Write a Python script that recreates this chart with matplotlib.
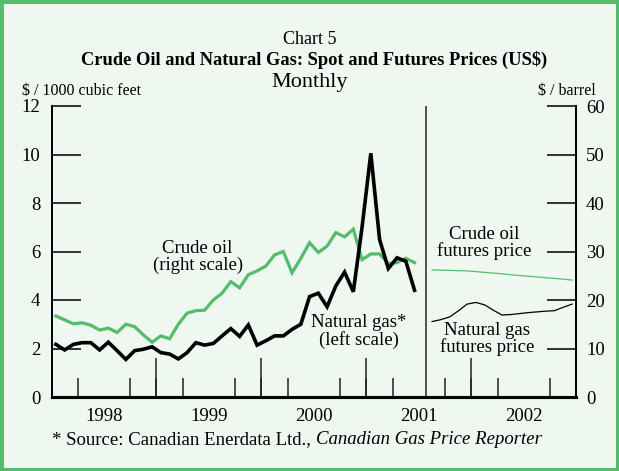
import numpy as np
import matplotlib
matplotlib.use("Agg")
import matplotlib.pyplot as plt
from matplotlib.patches import Rectangle

# Monthly spot prices, Jan 1998 - Jun 2001
gas_spot = [2.17, 1.94, 2.17, 2.24, 2.24, 1.94, 2.26, 1.91, 1.55, 1.91, 1.97, 2.07,
            1.83, 1.77, 1.57, 1.83, 2.24, 2.14, 2.21, 2.52, 2.82, 2.50, 2.97, 2.14,
            2.32, 2.52, 2.52, 2.79, 3.00, 4.14, 4.28, 3.72, 4.58, 5.15, 4.34, 7.00,
            10.05, 6.50, 5.30, 5.74, 5.60, 4.40]
oil_spot = [16.7, 15.9, 15.1, 15.3, 14.8, 13.8, 14.2, 13.3, 15.0, 14.5, 12.8, 11.3,
            12.6, 12.0, 15.0, 17.3, 17.8, 17.9, 20.0, 21.4, 23.8, 22.5, 25.2, 26.0,
            27.0, 29.3, 30.0, 25.6, 28.6, 31.8, 29.8, 31.1, 33.9, 33.0, 34.6, 28.3,
            29.5, 29.5, 27.5, 27.7, 28.6, 27.7]
# Futures prices, Aug 2001 - Dec 2002
gas_fut = [3.11, 3.19, 3.30, 3.55, 3.83, 3.90, 3.80, 3.58, 3.38, 3.40, 3.44, 3.48,
           3.51, 3.54, 3.56, 3.70, 3.83]
oil_fut = [26.2, 26.15, 26.1, 26.05, 26.0, 25.85, 25.7, 25.55, 25.4, 25.2, 25.05,
           24.9, 24.75, 24.6, 24.45, 24.3, 24.1]
years = ["1998", "1999", "2000", "2001", "2002"]

GREEN = "#55bc6c"
BG = "#eef7f0"
SERIF = "Liberation Serif"
plt.rcParams["font.family"] = SERIF

fig = plt.figure(figsize=(6.19, 4.71), dpi=100, facecolor=BG)
W, H = 619, 471

def fx(px):
    return px / W

def fy(py):
    return 1 - py / H

# green frame
fig.patches.append(Rectangle((0, 0), 1, 1, transform=fig.transFigure, fill=False,
                             edgecolor=GREEN, linewidth=5))

ax = fig.add_axes([fx(51.5), fy(397), fx(576.4) - fx(51.5), fy(106) - fy(397)])
ax.set_facecolor(BG)
ax2 = ax.twinx()

x_spot = np.arange(len(gas_spot)) + 0.5
x_fut = np.arange(len(gas_fut)) + 43.5

ax2.plot(x_spot, oil_spot, color=GREEN, lw=2.3, solid_joinstyle="miter")
ax2.plot(x_fut, oil_fut, color=GREEN, lw=0.9)
ax.plot(x_spot, gas_spot, color="black", lw=2.6, solid_joinstyle="miter", zorder=5)
ax.plot(x_fut, gas_fut, color="black", lw=0.9)
ax.set_zorder(ax2.get_zorder() + 1)
ax.patch.set_visible(False)
ax2.patch.set_visible(True)
ax2.patch.set_facecolor(BG)

ax.axvline(42.85, color="#444444", lw=1.3)

ax.set_xlim(0, 60)
ax.set_ylim(0, 12)
ax2.set_ylim(0, 60)

for a in (ax, ax2):
    a.spines["top"].set_visible(False)
    a.spines["left"].set_linewidth(1.3)
    a.spines["right"].set_linewidth(1.3)
    a.spines["bottom"].set_linewidth(2.2)

ax.set_yticks(np.arange(0, 13, 2))
ax2.set_yticks(np.arange(0, 61, 10))
ax.tick_params(axis="y", direction="in", length=21, width=1.3, pad=8,
               labelsize=13.5, color="#222222")
ax2.tick_params(axis="y", direction="in", length=21, width=1.3, pad=7,
                labelsize=13.5, color="#222222")

ax.set_xticks(np.arange(6, 60, 12))
ax.set_xticklabels(years)
ax.set_xticks(np.arange(0, 61, 3), minor=True)
ax.tick_params(axis="x", which="major", length=0, pad=8, labelsize=13.5)
ax.tick_params(axis="x", which="minor", direction="in", length=13.7, width=1.1,
               color="#222222")
sec = ax.secondary_xaxis("bottom")
sec.set_xticks([12, 24, 36, 48])
sec.set_xticklabels([])
sec.tick_params(direction="in", length=28, width=1.1, color="#222222")
sec.spines["bottom"].set_visible(False)

# series labels
lab = dict(ha="center", va="center", fontsize=13.5, linespacing=1.0)
ax.text(16.7, 5.77, "Crude oil\n(right scale)", **lab)
ax.text(35.1, 2.72, "Natural gas*\n(left scale)", **lab)
ax.text(49.5, 6.35, "Crude oil\nfutures price", **lab)
ax.text(49.8, 2.39, "Natural gas\nfutures price", **lab)

# headings
fig.text(fx(310), fy(39), "Chart 5", ha="center", va="center", fontsize=13)
fig.text(fx(314), fy(60), "Crude Oil and Natural Gas: Spot and Futures Prices (US$)",
         ha="center", va="center", fontsize=13.3, fontweight="bold")
fig.text(fx(310), fy(82), "Monthly", ha="center", va="center", fontsize=16)
fig.text(fx(22), fy(91), "$ / 1000 cubic feet", ha="left", va="center", fontsize=11.5)
fig.text(fx(596), fy(91), "$ / barrel", ha="right", va="center", fontsize=11.5)

# source line: plain part then italic title
src = fig.text(fx(52), fy(440), "* Source: Canadian Enerdata Ltd., ",
               ha="left", va="center", fontsize=13.5)
fig.canvas.draw()
bb = src.get_window_extent()
fig.text(bb.x1 / (fig.dpi * fig.get_figwidth()), fy(440), "Canadian Gas Price Reporter",
         ha="left", va="center", fontsize=13.5, style="italic")

fig.savefig("out.png", dpi=100, facecolor=BG)
